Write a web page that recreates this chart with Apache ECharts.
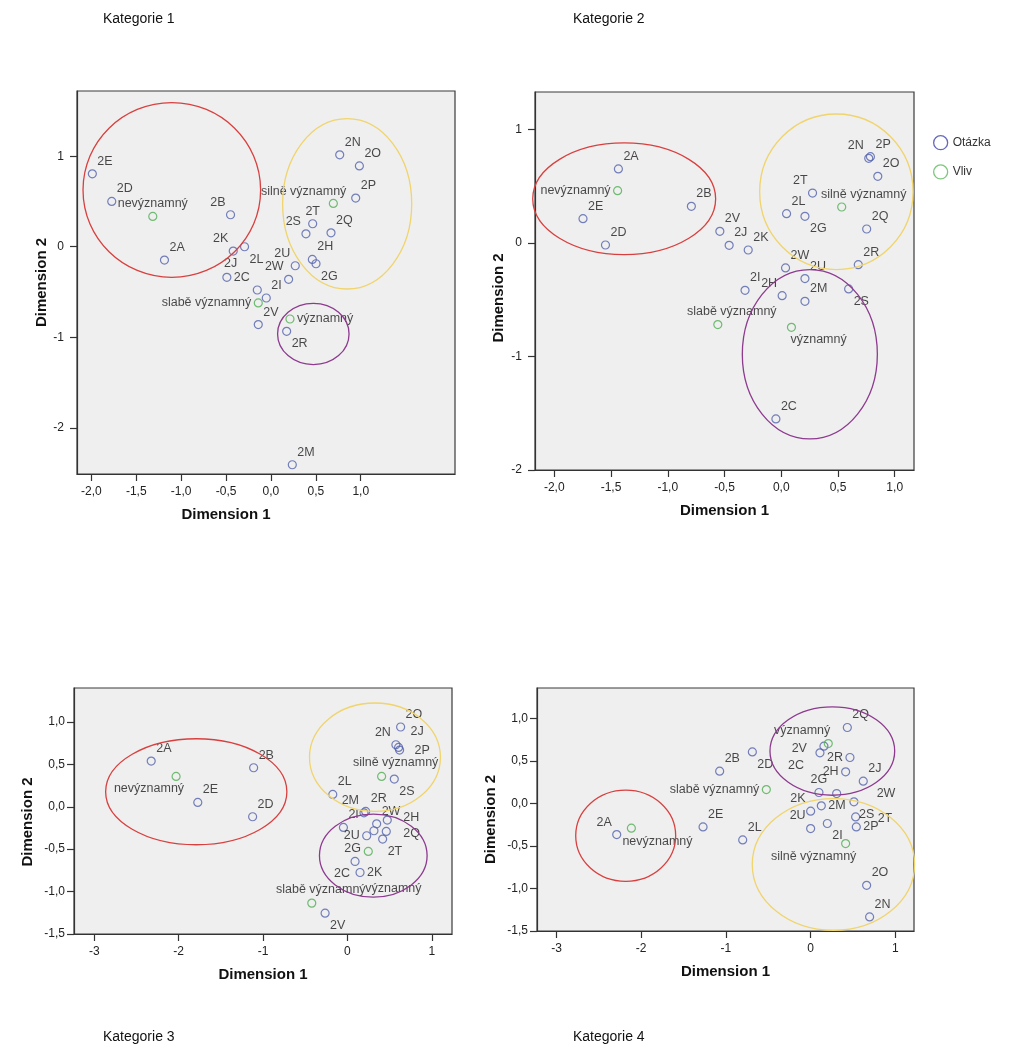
<!DOCTYPE html>
<html>
<head>
<meta charset="utf-8">
<script src="https://cdn.jsdelivr.net/npm/echarts@6/dist/echarts.min.js"></script>
<style>
html,body{margin:0;padding:0;background:#ffffff;}
#c{width:1019px;height:1059px;}
</style>
</head>
<body>
<div id="c"></div>
<script>
// ---------------- DATA ----------------
const questionCodes = ['2A','2B','2C','2D','2E','2G','2H','2I','2J','2K','2L','2M','2N','2O','2P','2Q','2R','2S','2T','2U','2V','2W'];
const influenceLevels = ['nevýznamný','slabě významný','významný','silně významný'];
const panelTitles = ['Kategorie 1','Kategorie 2','Kategorie 3','Kategorie 4'];

// Kategorie 1
const k1QDim1 = [-1.186,-0.450,-0.491,-1.773,-1.989,0.502,0.461,-0.052,-0.152,-0.420,-0.294,0.238,0.766,0.985,0.944,0.669,0.175,0.390,0.465,0.271,-0.141,0.197];
const k1QDim2 = [-0.147,0.353,-0.338,0.500,0.805,-0.188,-0.140,-0.566,-0.478,-0.048,0.000,-2.408,1.015,0.893,0.537,0.154,-0.934,0.143,0.254,-0.210,-0.860,-0.360];
const k1VDim1 = [-1.316,-0.141,0.212,0.695];
const k1VDim2 = [0.335,-0.621,-0.798,0.478];
const k1Ellipses = [[-1.104,0.627,0.989,0.965],[0.849,0.474,0.719,0.941],[0.472,-0.963,0.398,0.338]];

// Kategorie 2
const k2QDim1 = [-1.435,-0.792,-0.047,-1.549,-1.747,0.209,0.008,-0.319,-0.459,-0.291,0.047,0.209,0.771,0.851,0.786,0.753,0.679,0.594,0.276,0.209,-0.541,0.038];
const k2QDim2 = [0.652,0.323,-1.550,-0.018,0.214,0.235,-0.464,-0.417,-0.021,-0.062,0.258,-0.514,0.746,0.587,0.760,0.123,-0.191,-0.405,0.440,-0.314,0.103,-0.220];
const k2VDim1 = [-1.442,-0.559,0.090,0.533];
const k2VDim2 = [0.461,-0.719,-0.743,0.317];
const k2Ellipses = [[-1.384,0.389,0.806,0.492],[0.486,0.451,0.676,0.685],[0.252,-0.980,0.595,0.746]];

// Kategorie 3
const k3QDim1 = [-2.325,-1.111,0.091,-1.123,-1.773,0.315,0.473,-0.047,0.607,0.150,-0.173,0.197,0.575,0.631,0.619,0.461,0.217,0.556,0.418,0.229,-0.264,0.347];
const k3QDim2 = [0.539,0.460,-0.645,-0.118,0.051,-0.283,-0.157,-0.244,0.700,-0.775,0.145,-0.071,0.731,0.940,0.668,-0.291,-0.055,0.326,-0.381,-0.342,-1.254,-0.201];
const k3VDim1 = [-2.030,-0.422,0.248,0.406];
const k3VDim2 = [0.358,-1.136,-0.527,0.358];
const k3Ellipses = [[-1.791,0.177,1.074,0.625],[0.327,0.584,0.776,0.639],[0.307,-0.576,0.638,0.490]];

// Kategorie 4
const k4QDim1 = [-2.289,-1.074,0.110,-0.688,-1.270,0.098,0.413,0.197,0.621,0.000,-0.802,0.126,0.696,0.661,0.539,0.433,0.464,0.511,0.531,0.000,0.157,0.307];
const k4QDim2 = [-0.365,0.381,0.597,0.608,-0.275,0.130,0.373,-0.235,0.263,-0.090,-0.428,-0.027,-1.334,-0.962,-0.275,0.895,0.542,0.020,-0.157,-0.294,0.675,0.118];
const k4VDim1 = [-2.116,-0.523,0.208,0.413];
const k4VDim2 = [-0.290,0.165,0.706,-0.471];
const k4Ellipses = [[-2.183,-0.379,0.590,0.536],[0.269,-0.716,0.958,0.775],[0.256,0.618,0.736,0.520]];

// Tick values and labels
const k12XTicks = [-2,-1.5,-1,-0.5,0,0.5,1];
const k12XTickLabels = ['-2,0','-1,5','-1,0','-0,5','0,0','0,5','1,0'];
const k12YTicks = [-2,-1,0,1];
const k12YTickLabels = ['-2','-1','0','1'];
const k34XTicks = [-3,-2,-1,0,1];
const k34XTickLabels = ['-3','-2','-1','0','1'];
const k34YTicks = [-1.5,-1,-0.5,0,0.5,1];
const k34YTickLabels = ['-1,5','-1,0','-0,5','0,0','0,5','1,0'];

// ---------------- STYLE / LAYOUT ----------------
const FONT = '"Liberation Sans", Arial, sans-serif';
const ellipseColors = ['#d8403f', '#f0d46c', '#8d3a8f'];
const BLUE = '#5261ad', GREEN = '#4fae52';
const LABEL_SIZE = 12.5;

const PLACE = {
  tr:['left','bottom',5,-6], tl:['right','bottom',-5,-6], br:['left','top',5,6], bl:['right','top',-5,6],
  t:['center','bottom',0,-6], b:['center','top',0,6], r:['left','middle',7,0], l:['right','middle',-7,0]
};
const k1Place = {'2B':'tl','2C':'r','2G':'br','2J':['right','bottom',-20,-20],'2K':'tl','2L':'br','2R':'br','2S':'tl','2T':'t','2U':'tl','2W':'tl',
  'nevýznamný':'t','slabě významný':'l','významný':'r','silně významný':['right','bottom',13,-5]};
const k2Place = {'2G':'br','2H':'tl','2N':'tl','2S':'br','2T':'tl',
  'nevýznamný':'l','slabě významný':['center','bottom',14,-7],'významný':['left','top',-1,6],'silně významný':['center','bottom',22,-6]};
const k3Place = {'2C':'bl','2G':['right','top',-13,11],'2H':['left','middle',16,-3],'2J':['left','bottom',12,-9],'2K':'r','2M':'tl','2N':'tl',
  '2P':['left','middle',15,0],'2Q':['left','middle',17,2],'2S':'br','2T':'br','2U':'l','2V':'br',
  'nevýznamný':['right','top',8,6],'slabě významný':['center','bottom',9,-7],'významný':['left','top',-3,31],'silně významný':['center','bottom',14,-7]};
const k4Place = {'2A':'tl','2C':['right','top',-16,6],'2D':'br','2G':'t','2H':'l','2I':'br','2K':'tl','2M':'r','2P':'r','2R':'l','2S':'br',
  '2T':['left','middle',22,2],'2U':'tl','2V':['right','middle',-17,2],'2W':['left','middle',40,0],
  'nevýznamný':['left','top',-9,7],'slabě významný':'l','významný':['right','bottom',2,-7],'silně významný':['center','top',-32,6]};

function labelFor(name, placeMap){
  let p = placeMap[name] || 'tr';
  if (typeof p === 'string') p = PLACE[p];
  return {show:true, position:'inside', formatter:'{b}', align:p[0], verticalAlign:p[1], offset:[p[2],p[3]],
          color:'#1c1c1c', fontSize:LABEL_SIZE, fontFamily:FONT, textBorderWidth:0};
}
function points(names, d1, d2, placeMap){
  return names.map((n,i)=>({name:n, value:[d1[i], d2[i]], label:labelFor(n, placeMap)}));
}
function fmtFrom(ticks, labels){
  return v => { const i = ticks.findIndex(t => Math.abs(t - v) < 1e-9); return i >= 0 ? labels[i] : ''; };
}

const grids = [
  {left:77, top:91, width:378, height:383},
  {left:535, top:92, width:379, height:378},
  {left:74, top:688, width:378, height:246},
  {left:537, top:688, width:377, height:243}
];
const xRanges = [[-2.16,2.05],[-2.17,1.17],[-3.24,1.24],[-3.23,1.22]];
const yRanges = [[-2.51,1.72],[-2,1.33],[-1.5,1.40],[-1.5,1.36]];

function xAxisCfg(gi, ticks, labels, namePad){
  return {gridIndex:gi, type:'value', min:xRanges[gi][0], max:xRanges[gi][1],
    name:'Dimension 1', nameLocation:'middle', nameGap:33,
    nameTextStyle:{fontFamily:FONT, fontSize:15, fontWeight:'bold', color:'#111', padding:namePad},
    axisLine:{show:true, onZero:false, lineStyle:{color:'#333', width:1.2}},
    axisTick:{show:true, inside:false, length:7, customValues:ticks, lineStyle:{color:'#333', width:1.2}},
    axisLabel:{show:true, customValues:ticks, margin:12, fontSize:12, color:'#222', fontFamily:FONT, formatter:fmtFrom(ticks, labels)},
    splitLine:{show:false}};
}
function yAxisCfg(gi, ticks, labels, nameGap, namePad, margin){
  return {gridIndex:gi, type:'value', min:yRanges[gi][0], max:yRanges[gi][1],
    name:'Dimension 2', nameLocation:'middle', nameGap:nameGap,
    nameTextStyle:{fontFamily:FONT, fontSize:15, fontWeight:'bold', color:'#111', padding:namePad},
    axisLine:{show:true, onZero:false, lineStyle:{color:'#333', width:1.2}},
    axisTick:{show:true, inside:false, length:7, customValues:ticks, lineStyle:{color:'#333', width:1.2}},
    axisLabel:{show:true, customValues:ticks, margin:margin, fontSize:12, color:'#222', fontFamily:FONT, formatter:fmtFrom(ticks, labels)},
    splitLine:{show:false}};
}

function ellipseSeries(gi, ellipses){
  return {type:'custom', name:'ellipses'+gi, xAxisIndex:gi, yAxisIndex:gi, z:4, silent:true, clip:false,
    data: ellipses,
    renderItem: function(params, api){
      const c = api.coord([api.value(0), api.value(1)]);
      const s = api.size([api.value(2), api.value(3)]);
      return {type:'ellipse', shape:{cx:c[0], cy:c[1], rx:s[0], ry:s[1]},
        style:{fill:'none', stroke:ellipseColors[params.dataIndex], lineWidth:1.3}};
    }};
}
function qSeries(gi, d1, d2, place){
  return {type:'scatter', name:'Otázka', xAxisIndex:gi, yAxisIndex:gi, symbol:'circle', symbolSize:8, z:3,
    itemStyle:{color:'transparent', borderColor:BLUE, borderWidth:1.2},
    data: points(questionCodes, d1, d2, place)};
}
function vSeries(gi, d1, d2, place){
  return {type:'scatter', name:'Vliv', xAxisIndex:gi, yAxisIndex:gi, symbol:'circle', symbolSize:8, z:3,
    itemStyle:{color:'transparent', borderColor:GREEN, borderWidth:1.2},
    data: points(influenceLevels, d1, d2, place)};
}

const titleStyle = {fontFamily:FONT, fontSize:14, fontWeight:'normal', color:'#111'};
const option = {
  animation:false,
  backgroundColor:'#ffffff',
  title:[
    {text:panelTitles[0], left:103, top:12, padding:0, textStyle:titleStyle},
    {text:panelTitles[1], left:573, top:12, padding:0, textStyle:titleStyle},
    {text:panelTitles[2], left:103, top:1030, padding:0, textStyle:titleStyle},
    {text:panelTitles[3], left:573, top:1030, padding:0, textStyle:titleStyle}
  ],
  legend:{
    orient:'vertical', left:928, top:130, itemWidth:14, itemHeight:14, itemGap:14, icon:'circle',
    textStyle:{fontFamily:FONT, fontSize:12, color:'#333'},
    data:[
      {name:'Otázka', itemStyle:{color:'transparent', borderColor:'#3d44aa', borderWidth:1.3}},
      {name:'Vliv', itemStyle:{color:'transparent', borderColor:'#5cb85c', borderWidth:1.3}}
    ],
    selectedMode:false
  },
  grid: grids.map(g => Object.assign({show:true, backgroundColor:'#efefef', borderColor:'#3a3a3a', borderWidth:1.2}, g)),
  xAxis:[
    xAxisCfg(0, k12XTicks, k12XTickLabels, [0,80,0,0]),
    xAxisCfg(1, k12XTicks, k12XTickLabels, [0,0,0,0]),
    xAxisCfg(2, k34XTicks, k34XTickLabels, [0,0,0,0]),
    xAxisCfg(3, k34XTicks, k34XTickLabels, [0,0,0,0])
  ],
  yAxis:[
    yAxisCfg(0, k12YTicks, k12YTickLabels, 28, [0,0,0,0], 13),
    yAxisCfg(1, k12YTicks, k12YTickLabels, 29, [0,34,0,0], 13),
    yAxisCfg(2, k34YTicks, k34YTickLabels, 39, [0,22,0,0], 9),
    yAxisCfg(3, k34YTicks, k34YTickLabels, 39, [0,20,0,0], 9)
  ],
  series:[
    qSeries(0, k1QDim1, k1QDim2, k1Place), vSeries(0, k1VDim1, k1VDim2, k1Place), ellipseSeries(0, k1Ellipses),
    qSeries(1, k2QDim1, k2QDim2, k2Place), vSeries(1, k2VDim1, k2VDim2, k2Place), ellipseSeries(1, k2Ellipses),
    qSeries(2, k3QDim1, k3QDim2, k3Place), vSeries(2, k3VDim1, k3VDim2, k3Place), ellipseSeries(2, k3Ellipses),
    qSeries(3, k4QDim1, k4QDim2, k4Place), vSeries(3, k4VDim1, k4VDim2, k4Place), ellipseSeries(3, k4Ellipses)
  ]
};
const chart = echarts.init(document.getElementById('c'), null, {renderer:'canvas'});
chart.setOption(option);
</script>
</body>
</html>
